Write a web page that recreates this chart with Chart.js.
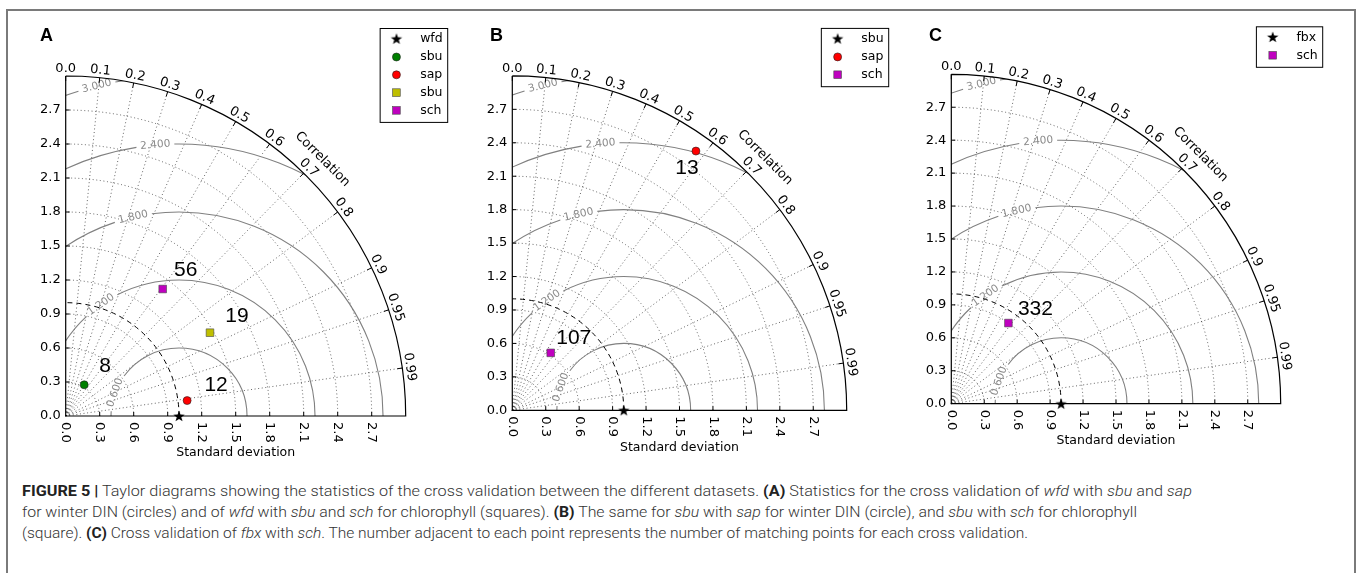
<!DOCTYPE html>
<html lang="en">
<head>
  <meta charset="UTF-8">
  <title>Taylor diagrams - cross validation</title>
  <style>
    body {
      margin: 0;
      background: #fff;
      width: 1358px;
      height: 573px;
      overflow: hidden;
      position: relative;
    }
    .frame {
      position: absolute;
      left: 6px;
      top: 9px;
      width: 1350px;
      height: 620px;
      border: 2px solid #7a7a7a;
      border-bottom: none;
      box-sizing: border-box;
    }
    canvas {
      position: absolute;
      top: 11px;
    }
    #caption {
      position: absolute;
      left: 22px;
      top: 481px;
      font-family: Roboto, "Liberation Sans", sans-serif;
      font-weight: 300;
      font-size: 15.5px;
      line-height: 21px;
      color: #333;
      white-space: nowrap;
    }
    #caption .ln {
      display: block;
      width: max-content;
      transform-origin: 0 50%;
    }
    #caption b { font-weight: 700; color: #222; }
  </style>
  <script src="https://cdn.jsdelivr.net/npm/chart.js"></script>
</head>
<body>
  <div class="frame"></div>
  <canvas id="chartA" width="452" height="449" style="left:8px"></canvas>
  <canvas id="chartB" width="450" height="449" style="left:460px"></canvas>
  <canvas id="chartC" width="444" height="449" style="left:910px"></canvas>

  <div id="caption">
    <span class="ln" data-w="1170"><b>FIGURE 5 |</b> Taylor diagrams showing the statistics of the cross validation between the different datasets. <b>(A)</b> Statistics for the cross validation of <i>wfd</i> with <i>sbu</i> and <i>sap</i></span>
    <span class="ln" data-w="1115">for winter DIN (circles) and of <i>wfd</i> with <i>sbu</i> and <i>sch</i> for chlorophyll (squares). <b>(B)</b> The same for <i>sbu</i> with <i>sap</i> for winter DIN (circle), and <i>sbu</i> with <i>sch</i> for chlorophyll</span>
    <span class="ln" data-w="1006">(square). <b>(C)</b> Cross validation of <i>fbx</i> with <i>sch</i>. The number adjacent to each point represents the number of matching points for each cross validation.</span>
  </div>

  <script>
    // axes shared by the three Taylor diagrams
    const stdTicks = [0, 0.3, 0.6, 0.9, 1.2, 1.5, 1.8, 2.1, 2.4, 2.7];
    const stdMax = 3.0;
    const corrTicks = [0, 0.1, 0.2, 0.3, 0.4, 0.5, 0.6, 0.7, 0.8, 0.9, 0.95, 0.99];
    const corrTickLabels = ['0.0', '0.1', '0.2', '0.3', '0.4', '0.5', '0.6', '0.7', '0.8', '0.9', '0.95', '0.99'];
    const rmsLevels = [0.6, 1.2, 1.8, 2.4, 3.0];
    const rmsLabels = ['0.600', '1.200', '1.800', '2.400', '3.000'];

    // panel A: wfd vs sbu / sap (DIN) and sbu / sch (chlorophyll)
    const namesA = ['wfd', 'sbu', 'sap', 'sbu', 'sch'];
    const stdA = [1.0, 0.32, 1.08, 1.47, 1.41];
    const corrA = [1.0, 0.51, 0.992, 0.866, 0.607];
    const countsA = [null, 8, 12, 19, 56];

    // panel B: sbu vs sap / sch
    const namesB = ['sbu', 'sap', 'sch'];
    const stdB = [1.0, 2.85, 0.62];
    const corrB = [1.0, 0.578, 0.556];
    const countsB = [null, 13, 107];

    // panel C: fbx vs sch
    const namesC = ['fbx', 'sch'];
    const stdC = [1.0, 0.90];
    const corrC = [1.0, 0.578];
    const countsC = [null, 332];

    // styling
    const markersA = ['star', 'circle', 'circle', 'rect', 'rect'];
    const colorsA = ['#000000', '#008000', '#ff0000', '#bfbf00', '#bf00bf'];
    const markersB = ['star', 'circle', 'rect'];
    const colorsB = ['#000000', '#ff0000', '#bf00bf'];
    const markersC = ['star', 'rect'];
    const colorsC = ['#000000', '#bf00bf'];
    // where the count sits relative to its marker (px)
    const countOffsetA = [null, [21, -19], [29, -15], [27, -16], [23, -19]];
    const countOffsetB = [null, [-9, 17], [23, -15]];
    const countOffsetC = [null, [27, -14]];
    // angle (deg) on each rms circle where its label sits
    const rmsLabelAngles = [160, 125, 103, 95, 104];

    function makeStar(color) {
      const c = document.createElement('canvas');
      c.width = c.height = 14;
      const g = c.getContext('2d');
      const R = 6, r = R * 0.4, cx = 7, cy = 7.5;
      g.beginPath();
      for (let i = 0; i < 10; i++) {
        const a = -Math.PI / 2 + i * Math.PI / 5;
        const rr = i % 2 ? r : R;
        g.lineTo(cx + rr * Math.cos(a), cy + rr * Math.sin(a));
      }
      g.closePath();
      g.fillStyle = color;
      g.fill();
      return c;
    }
    const starImg = makeStar('#000');

    function pointStyleOf(m) { return m === 'star' ? starImg : m; }
    function radiusOf(m) { return m === 'rect' ? 5.4 : (m === 'circle' ? 4 : 7); }

    const taylorPlugin = {
      id: 'taylor',
      beforeDatasetsDraw(chart, args, o) {
        const ctx = chart.ctx, xs = chart.scales.x, ys = chart.scales.y;
        const ox = xs.getPixelForValue(0), oy = ys.getPixelForValue(0);
        const u = xs.getPixelForValue(1) - ox;
        const R = stdMax * u;
        ctx.save();

        // dotted grid: std arcs and correlation rays
        ctx.strokeStyle = 'rgba(30,30,30,0.85)';
        ctx.lineWidth = 0.8;
        ctx.setLineDash([1, 2.6]);
        stdTicks.forEach(s => {
          if (s <= 0) return;
          ctx.beginPath();
          ctx.arc(ox, oy, s * u, 0, -Math.PI / 2, true);
          ctx.stroke();
        });
        corrTicks.forEach(c => {
          if (c <= 0) return;
          const t = Math.acos(c);
          ctx.beginPath();
          ctx.moveTo(ox, oy);
          ctx.lineTo(ox + R * Math.cos(t), oy - R * Math.sin(t));
          ctx.stroke();
        });
        ctx.setLineDash([]);

        // centred RMS difference contours
        const cx = xs.getPixelForValue(o.refStd), cy = oy;
        ctx.font = '10.5px "DejaVu Sans"';
        ctx.save();
        ctx.beginPath();
        ctx.moveTo(ox, oy);
        ctx.arc(ox, oy, R, 0, -Math.PI / 2, true);
        ctx.closePath();
        ctx.clip();
        ctx.strokeStyle = '#808080';
        ctx.lineWidth = 1.1;
        rmsLevels.forEach((lev, i) => {
          const r = lev * u;
          const phi = rmsLabelAngles[i] * Math.PI / 180;
          const d = (ctx.measureText(rmsLabels[i]).width / 2 + 4) / r;
          ctx.beginPath();
          ctx.arc(cx, cy, r, 0, -(phi - d), true);
          ctx.stroke();
          ctx.beginPath();
          ctx.arc(cx, cy, r, -(phi + d), -Math.PI, true);
          ctx.stroke();
        });
        ctx.restore();
        ctx.fillStyle = '#8a8a8a';
        ctx.textAlign = 'center';
        ctx.textBaseline = 'middle';
        rmsLevels.forEach((lev, i) => {
          const r = lev * u;
          const phi = rmsLabelAngles[i] * Math.PI / 180;
          ctx.save();
          ctx.translate(cx + r * Math.cos(phi), cy - r * Math.sin(phi));
          ctx.rotate(Math.PI / 2 - phi);
          ctx.fillText(rmsLabels[i], 0, 0);
          ctx.restore();
        });

        // reference std arc (dashed)
        ctx.strokeStyle = '#000';
        ctx.lineWidth = 1;
        ctx.setLineDash([5, 4]);
        ctx.beginPath();
        ctx.arc(ox, oy, o.refStd * u, 0, -Math.PI / 2, true);
        ctx.stroke();
        ctx.setLineDash([]);

        // axes
        ctx.lineWidth = 1.2;
        ctx.beginPath();
        ctx.moveTo(ox, oy - R);
        ctx.lineTo(ox, oy);
        ctx.lineTo(ox + R, oy);
        ctx.arc(ox, oy, R, 0, -Math.PI / 2, true);
        ctx.stroke();

        // ticks
        ctx.lineWidth = 1;
        ctx.beginPath();
        stdTicks.forEach(s => {
          if (s <= 0) return;
          const py = ys.getPixelForValue(s), px = xs.getPixelForValue(s);
          ctx.moveTo(ox, py); ctx.lineTo(ox + 4, py);
          ctx.moveTo(px, oy); ctx.lineTo(px, oy - 4);
        });
        corrTicks.forEach(c => {
          const t = Math.acos(c);
          ctx.moveTo(ox + R * Math.cos(t), oy - R * Math.sin(t));
          ctx.lineTo(ox + (R - 5) * Math.cos(t), oy - (R - 5) * Math.sin(t));
        });
        ctx.stroke();

        // std tick labels
        ctx.fillStyle = '#000';
        ctx.font = '13px "DejaVu Sans"';
        ctx.textAlign = 'right';
        ctx.textBaseline = 'middle';
        stdTicks.forEach(s => ctx.fillText(s.toFixed(1), ox - 5, ys.getPixelForValue(s)));
        ctx.textAlign = 'left';
        stdTicks.forEach(s => {
          ctx.save();
          ctx.translate(xs.getPixelForValue(s), oy + 6);
          ctx.rotate(Math.PI / 2);
          ctx.fillText(s.toFixed(1), 0, 0);
          ctx.restore();
        });

        // correlation tick labels along the outer arc
        ctx.textAlign = 'center';
        ctx.textBaseline = 'alphabetic';
        corrTicks.forEach((c, i) => {
          const t = Math.acos(c);
          ctx.save();
          ctx.translate(ox + (R + 4) * Math.cos(t), oy - (R + 4) * Math.sin(t));
          ctx.rotate(Math.PI / 2 - t);
          ctx.fillText(corrTickLabels[i], 0, 0);
          ctx.restore();
        });

        // axis titles
        ctx.font = '13px "DejaVu Sans"';
        ctx.textBaseline = 'middle';
        ctx.save();
        ctx.translate(ox + (R + 23) * Math.cos(Math.PI / 4), oy - (R + 23) * Math.sin(Math.PI / 4));
        ctx.rotate(Math.PI / 4);
        ctx.fillText('Correlation', 0, 0);
        ctx.restore();
        ctx.font = '12.5px "DejaVu Sans"';
        ctx.fillText('Standard deviation', ox + R / 2, oy + 37);

        ctx.restore();
      },
      afterDatasetsDraw(chart, args, o) {
        const ctx = chart.ctx, area = chart.chartArea;
        ctx.save();

        // counts next to the markers
        ctx.fillStyle = '#000';
        ctx.font = '21px "Liberation Sans"';
        ctx.textAlign = 'center';
        ctx.textBaseline = 'middle';
        o.counts.forEach((n, i) => {
          if (n === null) return;
          const el = chart.getDatasetMeta(i).data[0];
          ctx.fillText(String(n), el.x + o.offsets[i][0], el.y + o.offsets[i][1]);
        });

        // legend box, top right
        ctx.font = '12.5px "DejaVu Sans"';
        const ds = chart.data.datasets;
        const maxW = Math.max(...ds.map(d => ctx.measureText(d.label).width));
        const right = area.right + 42, top = area.top - 47.5;
        const w = 40 + maxW + 5, h = 10.7 + (ds.length - 1) * 17.8 + 12;
        const left = right - w;
        ctx.fillStyle = '#fff';
        ctx.fillRect(left, top, w, h);
        ctx.strokeStyle = '#000';
        ctx.lineWidth = 1;
        ctx.strokeRect(left, top, w, h);
        ds.forEach((d, i) => {
          const y = top + 10.7 + i * 17.8;
          const mx = left + 16.3;
          ctx.fillStyle = d.backgroundColor;
          ctx.strokeStyle = d.borderColor;
          ctx.lineWidth = d.borderWidth;
          if (d.pointStyle === 'circle') {
            ctx.beginPath(); ctx.arc(mx, y, 4, 0, Math.PI * 2); ctx.fill(); ctx.stroke();
          } else if (d.pointStyle === 'rect') {
            ctx.fillRect(mx - 3.8, y - 3.8, 7.6, 7.6); ctx.strokeRect(mx - 3.8, y - 3.8, 7.6, 7.6);
          } else {
            ctx.drawImage(d.pointStyle, mx - 7, y - 7.5);
          }
          ctx.fillStyle = '#000';
          ctx.textAlign = 'left';
          ctx.fillText(d.label, left + 40, y);
        });

        // panel letter
        ctx.font = 'bold 18px "Liberation Sans"';
        ctx.textAlign = 'left';
        ctx.fillText(o.letter, o.letterX, 24.7);
        ctx.restore();
      }
    };

    function buildPanel(id, canvasLeft, canvasW, area, names, std, corr, counts, markers, colors, offsets, letter, letterX) {
      const datasets = names.map((n, i) => ({
        label: n,
        data: [{ x: std[i] * corr[i], y: std[i] * Math.sqrt(1 - corr[i] * corr[i]) }],
        pointStyle: pointStyleOf(markers[i]),
        pointRadius: radiusOf(markers[i]),
        backgroundColor: colors[i],
        borderColor: markers[i] === 'rect' ? '#444' : '#222',
        borderWidth: markers[i] === 'star' ? 0 : 0.6,
        clip: false
      }));
      return new Chart(document.getElementById(id), {
        type: 'scatter',
        data: { datasets },
        options: {
          responsive: false,
          animation: false,
          devicePixelRatio: 1,
          events: [],
          layout: {
            padding: {
              left: area[0] - canvasLeft,
              top: area[1] - 11,
              right: canvasLeft + canvasW - area[2],
              bottom: 460 - area[3]
            }
          },
          scales: {
            x: { type: 'linear', min: 0, max: stdMax, display: false },
            y: { type: 'linear', min: 0, max: stdMax, display: false }
          },
          plugins: {
            legend: { display: false },
            tooltip: { enabled: false },
            taylor: { refStd: std[0], counts, offsets, letter, letterX: letterX - canvasLeft }
          }
        },
        plugins: [taylorPlugin]
      });
    }

    buildPanel('chartA', 8, 452, [65.7, 76, 405.7, 416], namesA, stdA, corrA, countsA, markersA, colorsA, countOffsetA, 'A', 40);
    buildPanel('chartB', 460, 450, [512.3, 75.9, 846.7, 410.3], namesB, stdB, corrB, countsB, markersB, colorsB, countOffsetB, 'B', 490);
    buildPanel('chartC', 910, 444, [951.3, 74.3, 1280.7, 403.7], namesC, stdC, corrC, countsC, markersC, colorsC, countOffsetC, 'C', 929);

    // stretch each caption line to the width it has in the figure
    document.querySelectorAll('#caption .ln').forEach(el => {
      const w = el.getBoundingClientRect().width;
      el.style.transform = 'scaleX(' + (parseFloat(el.dataset.w) / w) + ')';
    });
  </script>
</body>
</html>
